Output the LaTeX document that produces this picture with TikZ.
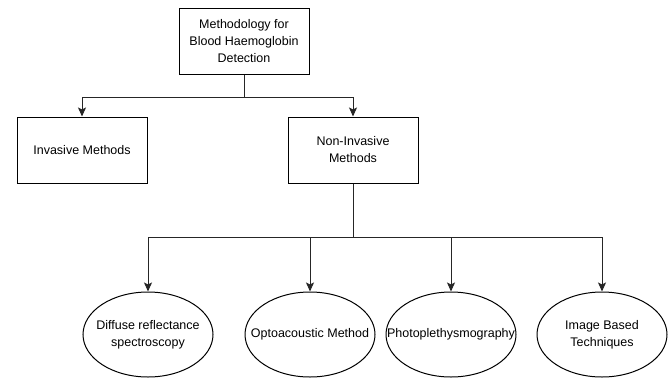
\documentclass[tikz,border=0pt]{standalone}
\usepackage{fontspec}
\setmainfont{Liberation Sans}
\usetikzlibrary{shapes.geometric,arrows.meta}
\tikzset{
  box/.style={draw=black, line width=1pt, minimum width=130pt, minimum height=66pt, inner sep=0pt, align=center, font=\fontsize{12.5}{17}\selectfont},
  oval/.style={draw=black, line width=1pt, ellipse, minimum width=130pt, minimum height=85pt, inner sep=0pt},
  lbl/.style={align=center, inner sep=0pt, font=\fontsize{12.5}{17}\selectfont},
  conn/.style={draw=black!85, line width=1pt},
  arr/.style={conn, -{Stealth[length=9pt,width=8pt,inset=2pt]}}
}
\begin{document}
\begin{tikzpicture}[x=1pt,y=-1pt]
\useasboundingbox (0,0) rectangle (672,378);
\node[box] (top) at (244,41) {Methodology for\\Blood Haemoglobin\\Detection};
\node[box] (inv) at (82,150) {Invasive Methods};
\node[box] (non) at (353,150) {Non-Invasive\\Methods};
\node[oval] (e1) at (148,334.5) {};
\node[oval] (e2) at (310,334.5) {};
\node[oval] (e3) at (451,334.5) {};
\node[oval] (e4) at (602,334.5) {};
\node[lbl] (t1) at (e1.center) {Diffuse reflectance\\spectroscopy};
\node[lbl] (t2) at (e2.center) {Optoacoustic Method};
\node[lbl] (t3) at (e3.center) {Photoplethysmography};
\node[lbl] (t4) at (e4.center) {Image Based\\Techniques};
\draw[conn] (top.south) -- ++(0,23) coordinate (j1);
\draw[arr] (j1) -| (inv.north);
\draw[arr] (j1) -| (non.north);
\draw[conn] (non.south) -- ++(0,54) coordinate (j2);
\draw[arr] (j2) -| (e1.north);
\draw[arr] (j2) -| (e2.north);
\draw[arr] (j2) -| (e3.north);
\draw[arr] (j2) -| (e4.north);
\end{tikzpicture}
\end{document}
